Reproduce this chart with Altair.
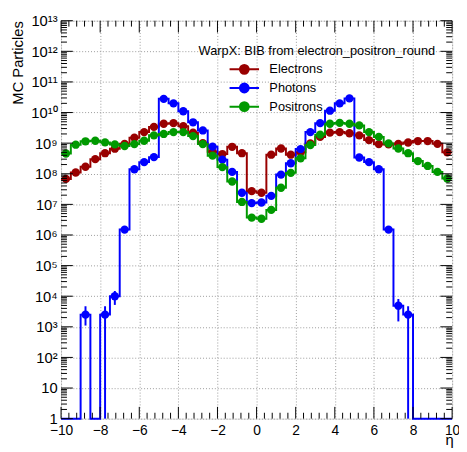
import altair as alt
import pandas as pd

# ---------------- data ----------------
eta_centers = [-9.75, -9.25, -8.75, -8.25, -7.75, -7.25, -6.75, -6.25, -5.75, -5.25,
               -4.75, -4.25, -3.75, -3.25, -2.75, -2.25, -1.75, -1.25, -0.75, -0.25,
               0.25, 0.75, 1.25, 1.75, 2.25, 2.75, 3.25, 3.75, 4.25, 4.75,
               5.25, 5.75, 6.25, 6.75, 7.25, 7.75, 8.25, 8.75, 9.25, 9.75]
bin_half_width = 0.25

electrons = [6.8e7, 1.1e8, 1.7e8, 3.0e8, 4.7e8, 6.6e8, 9.5e8, 1.5e9, 2.3e9, 3.4e9,
             4.3e9, 4.5e9, 3.6e9, 2.2e9, 1.0e9, 5.2e8, 4.4e8, 7.6e8, 4.7e8, 2.7e7,
             2.4e7, 4.2e8, 6.7e8, 4.2e8, 5.0e8, 9.8e8, 1.6e9, 2.2e9, 2.3e9, 2.1e9,
             1.8e9, 1.26e9, 9.3e8, 9.1e8, 9.5e8, 1.05e9, 1.17e9, 1.17e9, 9.5e8, 5.0e8]
photons = [0, 0, 2.5e3, 0, 2.5e3, 1.0e4, 1.5e6, 1.4e8, 2.4e8, 3.5e8,
           2.8e10, 2.0e10, 1.1e10, 4.8e9, 2.6e9, 7.7e8, 2.9e8, 1.15e8, 2.4e7, 1.1e7,
           1.15e7, 1.9e7, 9.4e7, 2.2e8, 6.4e8, 2.3e9, 4.5e9, 1.15e10, 2.0e10, 2.9e10,
           3.4e8, 2.4e8, 1.4e8, 1.5e6, 4.9e3, 2.5e3, 0, 0, 0, 0]
positrons = [4.6e8, 8.9e8, 1.15e9, 1.2e9, 1.06e9, 9.1e8, 8.1e8, 9.3e8, 1.2e9, 1.8e9,
             2.0e9, 2.3e9, 2.3e9, 1.7e9, 9.3e8, 3.9e8, 1.65e8, 5.6e7, 1.2e7, 3.7e6,
             3.4e6, 6.6e6, 3.5e7, 1.07e8, 3.2e8, 8.7e8, 1.9e9, 4.3e9, 4.6e9, 4.3e9,
             3.8e9, 2.3e9, 1.6e9, 9.8e8, 6.7e8, 4.7e8, 2.6e8, 1.8e8, 1.15e8, 7.0e7]

# visible error bars (photons, low-statistics bins)
err_eta = [-8.75, -7.75, -7.25, 7.25, 7.75]
err_lo = [1.1e3, 1.0, 5.2e3, 1.5e3, 1.0]
err_hi = [4.7e3, 4.7e3, 1.48e4, 8.1e3, 4.7e3]

series_names = ["Electrons", "Photons", "Positrons"]
series_colors = ["#990000", "#0000ff", "#009900"]
legend_title = "WarpX: BIB from electron_positron_round"

x_major = [-10, -8, -6, -4, -2, 0, 2, 4, 6, 8, 10]
x_minor = [round(-10 + 0.4 * i, 1) for i in range(51) if i % 5 != 0]
y_major = [10 ** i for i in range(14)]
y_minor = [k * 10 ** n for n in range(13) for k in range(2, 10)]
y_labels = ["1", "10", "10²", "10³", "10⁴", "10⁵", "10⁶", "10⁷", "10⁸", "10⁹",
            "10¹⁰", "10¹¹", "10¹²", "10¹³"]

FONT = "Liberation Sans"
W, H = 398, 405

# ---------------- tables ----------------
line_rows, pt_rows = [], []
for name, vals in zip(series_names, [electrons, photons, positrons]):
    for c, v in zip(eta_centers, vals):
        line_rows.append({"series": name, "eta": c - bin_half_width, "val": max(v, 1.0)})
        if v > 0:
            pt_rows.append({"series": name, "eta": c, "val": v})
    line_rows.append({"series": name, "eta": eta_centers[-1] + bin_half_width,
                      "val": max(vals[-1], 1.0)})
line_df = pd.DataFrame(line_rows)
pt_df = pd.DataFrame(pt_rows)
err_df = pd.DataFrame({"eta": err_eta, "lo": err_lo, "hi": err_hi})

xs = alt.Scale(domain=[-10, 10], nice=False, zero=False)
ys = alt.Scale(type="log", domain=[1, 1e13], nice=False)
cs = alt.Scale(domain=series_names, range=series_colors)

label_expr = "[" + ",".join("'" + s + "'" for s in y_labels) + "][round(log(datum.value)/LN10)]"

x_axis = alt.Axis(values=x_major, labelFontSize=14, labelFont=FONT, ticks=False, domain=False,
                  grid=True, gridDash=[1, 2], gridColor="#9a9a9a", labelPadding=5,
                  labelFlush=False, labelOverlap=False, labelColor="black",
                  title="η", titleFont=FONT, titleFontSize=15, titleFontWeight="normal",
                  titleX=W + 1, titleY=29, titleAlign="right", titleBaseline="bottom",
                  titleColor="black")
y_axis = alt.Axis(values=y_major, labelExpr=label_expr, labelFontSize=15, labelFont=FONT,
                  ticks=False, domain=False, grid=True, gridDash=[1, 2], gridColor="#9a9a9a",
                  labelPadding=4, labelOverlap=False, labelFlush=False, labelColor="black",
                  title="MC Particles", titleFont=FONT, titleFontSize=15,
                  titleFontWeight="normal", titleX=-44, titleY=0, titleAngle=270,
                  titleAlign="right", titleBaseline="middle", titleColor="black")

sym_path = ("M-3,0H3M0,-1V1M0.9,0A0.9,0.9,0,1,1,-0.9,0A0.9,0.9,0,1,1,0.9,0Z")
legend = alt.Legend(title=None, orient="none", legendX=180, legendY=43, symbolType=sym_path,
                    symbolSize=100, symbolStrokeWidth=2, labelFontSize=13, labelFont=FONT,
                    labelOffset=19, rowPadding=0, padding=0, labelColor="black")

lines = alt.Chart(line_df).mark_line(interpolate="step-after", strokeWidth=2).encode(
    x=alt.X("eta:Q", scale=xs, axis=x_axis),
    y=alt.Y("val:Q", scale=ys, axis=y_axis),
    color=alt.Color("series:N", scale=cs, legend=legend),
    order="eta:Q",
)
points = alt.Chart(pt_df).mark_point(filled=True, size=72, opacity=1).encode(
    x=alt.X("eta:Q", scale=xs, axis=x_axis),
    y=alt.Y("val:Q", scale=ys, axis=y_axis),
    color=alt.Color("series:N", scale=cs, legend=legend),
)
errs = alt.Chart(err_df).mark_rule(strokeWidth=2, color="#0000ff").encode(
    x=alt.X("eta:Q", scale=xs, axis=x_axis),
    y=alt.Y("lo:Q", scale=ys, axis=y_axis),
    y2="hi:Q",
)

def hticks(vals, y0, y1):
    return alt.Chart(pd.DataFrame({"eta": vals})).mark_rule(color="black", strokeWidth=1).encode(
        x=alt.X("eta:Q", scale=xs, axis=x_axis), y=alt.value(y0), y2=alt.value(y1))

def vticks(vals, x0, x1):
    return alt.Chart(pd.DataFrame({"val": vals})).mark_rule(color="black", strokeWidth=1).encode(
        y=alt.Y("val:Q", scale=ys, axis=y_axis), x=alt.value(x0), x2=alt.value(x1))

ticks = [
    hticks(x_major, H, H - 12), hticks(x_minor, H, H - 6),
    hticks(x_major, 0, 12), hticks(x_minor, 0, 6),
    vticks(y_major, 0, 12), vticks(y_minor, 0, 6),
    vticks(y_major, W, W - 12), vticks(y_minor, W, W - 6),
]

title_txt = alt.Chart(pd.DataFrame({"t": [legend_title]})).mark_text(
    align="left", baseline="middle", fontSize=13, font=FONT, color="black").encode(
    text="t:N", x=alt.value(140), y=alt.value(30.5))

chart = alt.layer(lines, points, errs, *ticks, title_txt).properties(
    width=W, height=H,
    autosize=alt.AutoSizeParams(type="none"),
    padding={"left": 54, "top": 9, "right": 7, "bottom": 30},
).configure_view(stroke="black", strokeWidth=1).configure(background="white")

chart.save("out.html", embed_options={"renderer": "svg", "actions": False})
